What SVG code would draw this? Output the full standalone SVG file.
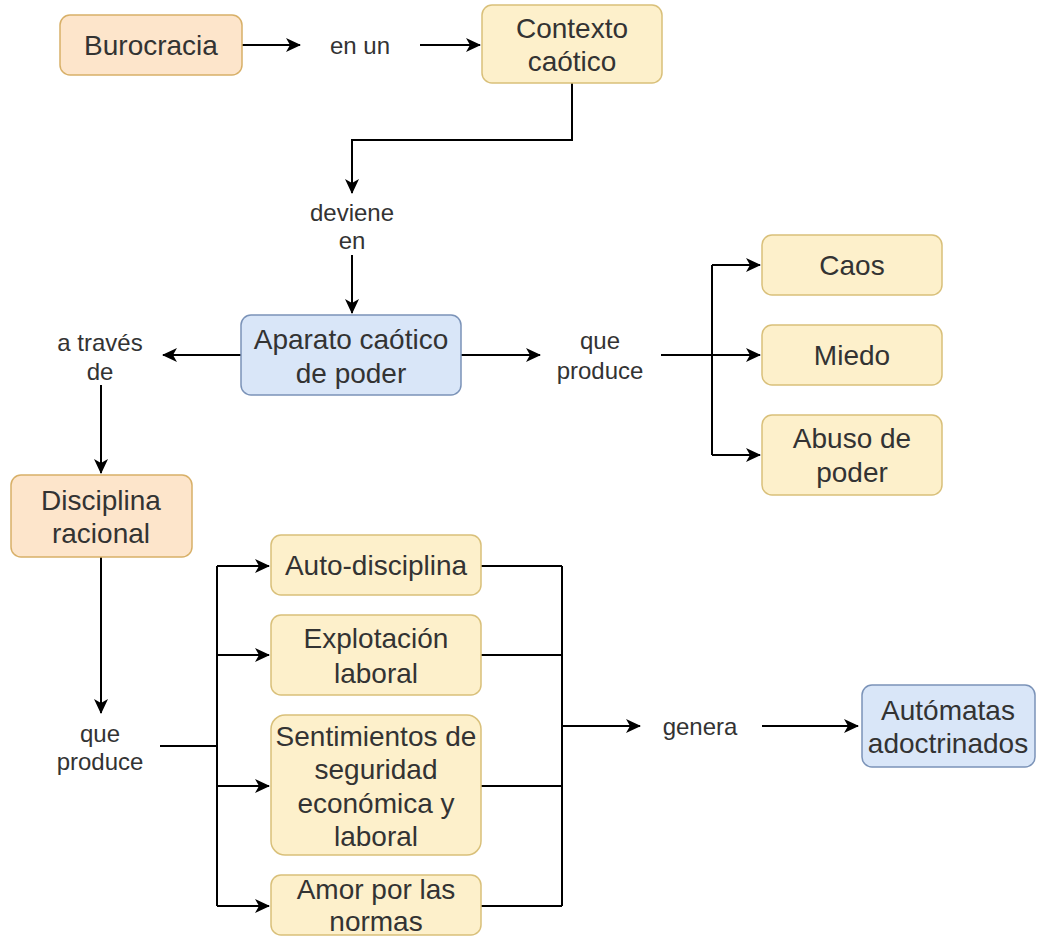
<svg xmlns="http://www.w3.org/2000/svg" width="1037" height="936" viewBox="0 0 1037 936">
<defs>
<style>
.box{stroke-width:1.5}
.or{fill:#fde5cb;stroke:#d8b068}
.ye{fill:#fdf0cb;stroke:#d9c07a}
.bl{fill:#d9e6f8;stroke:#7b93b8}
text{font-family:"Liberation Sans",Arial,sans-serif;fill:#333;text-anchor:middle;dominant-baseline:central}
.t{font-size:28px}
.l{font-size:24px}
.c{fill:none;stroke:#000;stroke-width:2}
.a{marker-end:url(#arr)}
</style>
<marker id="arr" markerUnits="userSpaceOnUse" markerWidth="16" markerHeight="14" refX="14" refY="7" orient="auto">
<path d="M0,0 L15,7 L0,14 L4,7 Z" fill="#000"/>
</marker>
</defs>
<rect width="1037" height="936" fill="#fff"/>
<g id="connectors">
<path class="c a" d="M242,45 H300"/>
<path class="c a" d="M420,45 H480"/>
<path class="c a" d="M572,83 V140 H352 V193"/>
<path class="c a" d="M352,255 V313"/>
<path class="c a" d="M241,355 H163"/>
<path class="c a" d="M101,385 V473"/>
<path class="c a" d="M461,355 H540"/>
<path class="c a" d="M661,355 H760"/>
<path class="c" d="M712,265 V455"/>
<path class="c a" d="M712,265 H760"/>
<path class="c a" d="M712,455 H760"/>
<path class="c a" d="M101,557 V713"/>
<path class="c" d="M160,746 H217"/>
<path class="c" d="M217,566 V906"/>
<path class="c a" d="M217,566 H269"/>
<path class="c a" d="M217,655 H269"/>
<path class="c a" d="M217,786 H269"/>
<path class="c a" d="M217,906 H269"/>
<path class="c" d="M481,566 H562 M481,655 H562 M481,786 H562 M481,906 H562 M562,566 V906"/>
<path class="c a" d="M562,726 H640"/>
<path class="c a" d="M762,726 H858"/>
</g>
<g id="lbl-enun"><text class="l" x="360" y="45">en un</text></g>
<g id="lbl-deviene"><text class="l" x="352" y="212">deviene</text><text class="l" x="352" y="240">en</text></g>
<g id="lbl-atraves"><text class="l" x="100" y="342">a través</text><text class="l" x="100" y="371">de</text></g>
<g id="lbl-queproduce1"><text class="l" x="600" y="340">que</text><text class="l" x="600" y="370">produce</text></g>
<g id="lbl-queproduce2"><text class="l" x="100" y="733">que</text><text class="l" x="100" y="761">produce</text></g>
<g id="lbl-genera"><text class="l" x="700" y="726">genera</text></g>
<g id="burocracia"><rect class="box or" x="60" y="15" width="182" height="60" rx="10"/><text class="t" x="151" y="45">Burocracia</text></g>
<g id="contexto"><rect class="box ye" x="482" y="5" width="180" height="78" rx="10"/><text class="t" x="572" y="28">Contexto</text><text class="t" x="572" y="61">caótico</text></g>
<g id="aparato"><rect class="box bl" x="241" y="315" width="220" height="80" rx="10"/><text class="t" x="351" y="339">Aparato caótico</text><text class="t" x="351" y="373">de poder</text></g>
<g id="caos"><rect class="box ye" x="762" y="235" width="180" height="60" rx="10"/><text class="t" x="852" y="265">Caos</text></g>
<g id="miedo"><rect class="box ye" x="762" y="325" width="180" height="60" rx="10"/><text class="t" x="852" y="355">Miedo</text></g>
<g id="abuso"><rect class="box ye" x="762" y="415" width="180" height="80" rx="10"/><text class="t" x="852" y="438">Abuso de</text><text class="t" x="852" y="472">poder</text></g>
<g id="disciplina"><rect class="box or" x="11" y="475" width="181" height="82" rx="10"/><text class="t" x="101" y="500">Disciplina</text><text class="t" x="101" y="533">racional</text></g>
<g id="auto"><rect class="box ye" x="271" y="535" width="210" height="60" rx="10"/><text class="t" x="376" y="565">Auto-disciplina</text></g>
<g id="explotacion"><rect class="box ye" x="271" y="615" width="210" height="80" rx="10"/><text class="t" x="376" y="638">Explotación</text><text class="t" x="376" y="673">laboral</text></g>
<g id="sentimientos"><rect class="box ye" x="271" y="715" width="210" height="140" rx="14"/><text class="t" x="376" y="736">Sentimientos de</text><text class="t" x="376" y="769">seguridad</text><text class="t" x="376" y="803">económica y</text><text class="t" x="376" y="836">laboral</text></g>
<g id="amor"><rect class="box ye" x="271" y="875" width="210" height="60" rx="10"/><text class="t" x="376" y="889">Amor por las</text><text class="t" x="376" y="921">normas</text></g>
<g id="automatas"><rect class="box bl" x="862" y="685" width="173" height="82" rx="10"/><text class="t" x="948" y="710">Autómatas</text><text class="t" x="948" y="743">adoctrinados</text></g>
</svg>
